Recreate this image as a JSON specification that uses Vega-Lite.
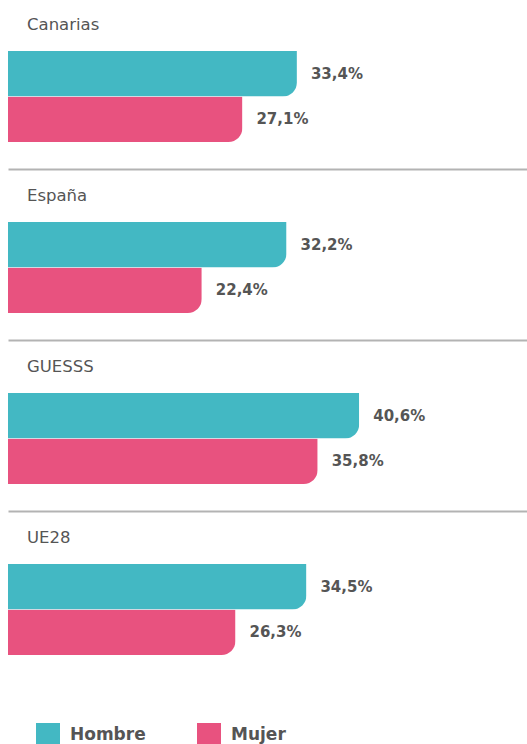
{
  "$schema": "https://vega.github.io/schema/vega-lite/v6.json",
  "padding": {"left": 8, "right": 0, "top": 16, "bottom": 0},
  "background": "white",
  "datasets": {
    "d": [
      {"region": "Canarias", "sexo": "Hombre", "valor": 0.334},
      {"region": "Canarias", "sexo": "Mujer", "valor": 0.271},
      {"region": "España", "sexo": "Hombre", "valor": 0.322},
      {"region": "España", "sexo": "Mujer", "valor": 0.224},
      {"region": "GUESSS", "sexo": "Hombre", "valor": 0.406},
      {"region": "GUESSS", "sexo": "Mujer", "valor": 0.358},
      {"region": "UE28", "sexo": "Hombre", "valor": 0.345},
      {"region": "UE28", "sexo": "Mujer", "valor": 0.263}
    ]
  },
  "spacing": 18,
  "vconcat": [
    {
      "title": {"text": "Canarias"},
      "width": 519, "height": 118,
      "data": {"name": "d"},
      "transform": [{"filter": "datum.region === 'Canarias'"}],
      "encoding": {
        "y": {"field": "sexo", "type": "nominal", "axis": null,
              "scale": {"domain": ["Hombre", "Mujer"], "paddingInner": 0, "paddingOuter": 0.2967, "align": 0}},
        "x": {"field": "valor", "type": "quantitative", "scale": {"domain": [0, 0.6]},
              "axis": {"title": null, "labels": false, "ticks": false, "grid": false, "domainColor": "#b3b3b3", "domainWidth": 2}}
      },
      "layer": [
        {"mark": {"type": "bar", "cornerRadiusBottomRight": 14},
         "encoding": {"color": {"field": "sexo", "type": "nominal", "scale": {"domain": ["Hombre", "Mujer"], "range": ["#43b8c3", "#e8527f"]}, "legend": {"title": null}}}},
        {"mark": {"type": "text", "align": "left", "baseline": "middle", "dx": 14, "font": "DejaVu Sans", "fontWeight": "bold", "fontSize": 15, "color": "#555555"},
         "encoding": {"text": {"field": "valor", "type": "quantitative", "format": ".1%"}}}
      ]
    },
    {
      "title": {"text": "España"},
      "width": 519, "height": 118,
      "data": {"name": "d"},
      "transform": [{"filter": "datum.region === 'España'"}],
      "encoding": {
        "y": {"field": "sexo", "type": "nominal", "axis": null,
              "scale": {"domain": ["Hombre", "Mujer"], "paddingInner": 0, "paddingOuter": 0.2967, "align": 0}},
        "x": {"field": "valor", "type": "quantitative", "scale": {"domain": [0, 0.6]},
              "axis": {"title": null, "labels": false, "ticks": false, "grid": false, "domainColor": "#b3b3b3", "domainWidth": 2}}
      },
      "layer": [
        {"mark": {"type": "bar", "cornerRadiusBottomRight": 14},
         "encoding": {"color": {"field": "sexo", "type": "nominal", "scale": {"domain": ["Hombre", "Mujer"], "range": ["#43b8c3", "#e8527f"]}, "legend": {"title": null}}}},
        {"mark": {"type": "text", "align": "left", "baseline": "middle", "dx": 14, "font": "DejaVu Sans", "fontWeight": "bold", "fontSize": 15, "color": "#555555"},
         "encoding": {"text": {"field": "valor", "type": "quantitative", "format": ".1%"}}}
      ]
    },
    {
      "title": {"text": "GUESSS"},
      "width": 519, "height": 118,
      "data": {"name": "d"},
      "transform": [{"filter": "datum.region === 'GUESSS'"}],
      "encoding": {
        "y": {"field": "sexo", "type": "nominal", "axis": null,
              "scale": {"domain": ["Hombre", "Mujer"], "paddingInner": 0, "paddingOuter": 0.2967, "align": 0}},
        "x": {"field": "valor", "type": "quantitative", "scale": {"domain": [0, 0.6]},
              "axis": {"title": null, "labels": false, "ticks": false, "grid": false, "domainColor": "#b3b3b3", "domainWidth": 2}}
      },
      "layer": [
        {"mark": {"type": "bar", "cornerRadiusBottomRight": 14},
         "encoding": {"color": {"field": "sexo", "type": "nominal", "scale": {"domain": ["Hombre", "Mujer"], "range": ["#43b8c3", "#e8527f"]}, "legend": {"title": null}}}},
        {"mark": {"type": "text", "align": "left", "baseline": "middle", "dx": 14, "font": "DejaVu Sans", "fontWeight": "bold", "fontSize": 15, "color": "#555555"},
         "encoding": {"text": {"field": "valor", "type": "quantitative", "format": ".1%"}}}
      ]
    },
    {
      "title": {"text": "UE28"},
      "width": 519, "height": 118,
      "data": {"name": "d"},
      "transform": [{"filter": "datum.region === 'UE28'"}],
      "encoding": {
        "y": {"field": "sexo", "type": "nominal", "axis": null,
              "scale": {"domain": ["Hombre", "Mujer"], "paddingInner": 0, "paddingOuter": 0.2967, "align": 0}},
        "x": {"field": "valor", "type": "quantitative", "scale": {"domain": [0, 0.6]}, "axis": null}
      },
      "layer": [
        {"mark": {"type": "bar", "cornerRadiusBottomRight": 14},
         "encoding": {"color": {"field": "sexo", "type": "nominal", "scale": {"domain": ["Hombre", "Mujer"], "range": ["#43b8c3", "#e8527f"]}, "legend": {"title": null}}}},
        {"mark": {"type": "text", "align": "left", "baseline": "middle", "dx": 14, "font": "DejaVu Sans", "fontWeight": "bold", "fontSize": 15, "color": "#555555"},
         "encoding": {"text": {"field": "valor", "type": "quantitative", "format": ".1%"}}}
      ]
    }
  ],
  "config": {
    "locale": {"number": {"decimal": ",", "thousands": ".", "grouping": [3], "currency": ["", " €"]}},
    "view": {"stroke": null},
    "title": {"anchor": "start", "dx": 19, "offset": 18, "font": "DejaVu Sans", "fontSize": 16.5, "fontWeight": "normal", "color": "#555555"},
    "legend": {"orient": "bottom", "direction": "horizontal", "offset": 13, "padding": 28, "symbolType": "square", "symbolSize": 576, "symbolStrokeWidth": 0, "symbolOpacity": 1, "labelFont": "DejaVu Sans", "labelFontSize": 17, "labelFontWeight": "bold", "labelColor": "#555555", "labelOffset": 10, "columnPadding": 51}
  }
}
